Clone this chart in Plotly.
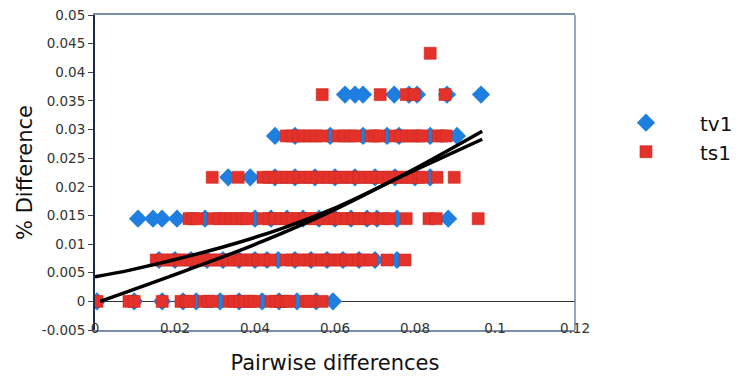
import plotly.graph_objects as go

# Discrete y levels of the rows
levels = [0.0, 0.00722, 0.01444, 0.02166, 0.02888, 0.0361, 0.04332]

# ts1 (red squares) x positions per row
ts1_row0 = [0.0005, 0.0085, 0.0098, 0.0168, 0.0215, 0.0228, 0.0235, 0.0273, 0.0283, 0.0293,
            0.0335, 0.0348, 0.0362, 0.0375, 0.0388, 0.0398, 0.0440, 0.0453, 0.0465, 0.0478,
            0.0485, 0.0528, 0.0535, 0.0568]
ts1_row1 = [0.0153, 0.0168, 0.0183, 0.0198, 0.0213, 0.0228, 0.0243, 0.0258, 0.0273, 0.0288,
            0.0303, 0.0318, 0.0333, 0.0348, 0.0363, 0.0378, 0.0393, 0.0408, 0.0423, 0.0438,
            0.0478, 0.0493, 0.0508, 0.0523, 0.0538, 0.0553, 0.0568, 0.0583, 0.0598, 0.0613,
            0.0628, 0.0643, 0.0658, 0.0673, 0.0690, 0.0730, 0.0775]
ts1_row2 = [0.0235, 0.0245, 0.0255, 0.0295, 0.0310, 0.0325, 0.0340, 0.0355, 0.0370, 0.0380,
            0.0420, 0.0435, 0.0450, 0.0465, 0.0480, 0.0495, 0.0510, 0.0525, 0.0540, 0.0555,
            0.0570, 0.0585, 0.0600, 0.0615, 0.0630, 0.0645, 0.0660, 0.0675, 0.0690, 0.0722,
            0.0735, 0.0778, 0.0835, 0.0853, 0.0958]
ts1_row3 = [0.0293, 0.0358, 0.0420, 0.0435, 0.0450, 0.0465, 0.0480, 0.0495, 0.0510, 0.0525,
            0.0540, 0.0555, 0.0570, 0.0585, 0.0600, 0.0615, 0.0630, 0.0645, 0.0660, 0.0675,
            0.0690, 0.0705, 0.0720, 0.0735, 0.0750, 0.0765, 0.0780, 0.0795, 0.0810, 0.0818,
            0.0855, 0.0898]
ts1_row4 = [0.0478, 0.0493, 0.0508, 0.0523, 0.0538, 0.0553, 0.0568, 0.0608, 0.0623, 0.0638,
            0.0650, 0.0690, 0.0700, 0.0710, 0.0750, 0.0765, 0.0780, 0.0795, 0.0810, 0.0818,
            0.0858, 0.0868, 0.0878]
ts1_row5 = [0.0568, 0.0713, 0.0778, 0.0798, 0.0875]
ts1_row6 = [0.0838]

# tv1 (blue diamonds) x positions per row
tv1_row0 = [0.0005, 0.0098, 0.0168, 0.0220, 0.0253, 0.0313, 0.0360, 0.0418, 0.0460, 0.0505,
            0.0553, 0.0595]
tv1_row1 = [0.0160, 0.0200, 0.0240, 0.0280, 0.0320, 0.0360, 0.0400, 0.0430, 0.0458, 0.0500,
            0.0540, 0.0580, 0.0620, 0.0660, 0.0700, 0.0755]
tv1_row2 = [0.01075, 0.0145, 0.01675, 0.0205, 0.0275, 0.0400, 0.0440, 0.0480, 0.0520, 0.0560,
            0.0600, 0.0640, 0.0680, 0.0705, 0.0755, 0.0883]
tv1_row3 = [0.0333, 0.0388, 0.0450, 0.0500, 0.0550, 0.0600, 0.0650, 0.0700, 0.0750, 0.0800,
            0.0838]
tv1_row4 = [0.0450, 0.0500, 0.0588, 0.0670, 0.0730, 0.0760, 0.0838, 0.0905]
tv1_row5 = [0.0625, 0.0650, 0.0670, 0.0748, 0.0785, 0.0805, 0.0880, 0.0965]
tv1_row6 = []

# Trend lines
trend_a_x = [0.0, 0.009, 0.032, 0.047, 0.059, 0.079, 0.0968]
trend_a_y = [0.0043, 0.0055, 0.0095, 0.0128, 0.0160, 0.0226, 0.0283]
trend_b_x = [0.0013, 0.022, 0.042, 0.059, 0.079, 0.0968]
trend_b_y = [0.0, 0.0052, 0.0105, 0.0157, 0.0228, 0.0297]

x_ticks = [0, 0.02, 0.04, 0.06, 0.08, 0.1, 0.12]
x_tick_labels = ["0", "0.02", "0.04", "0.06", "0.08", "0.1", "0.12"]
y_ticks = [-0.005, 0, 0.005, 0.01, 0.015, 0.02, 0.025, 0.03, 0.035, 0.04, 0.045, 0.05]
y_tick_labels = ["-0.005", "0", "0.005", "0.01", "0.015", "0.02", "0.025", "0.03",
                 "0.035", "0.04", "0.045", "0.05"]

ts1_rows = [ts1_row0, ts1_row1, ts1_row2, ts1_row3, ts1_row4, ts1_row5, ts1_row6]
tv1_rows = [tv1_row0, tv1_row1, tv1_row2, tv1_row3, tv1_row4, tv1_row5, tv1_row6]

def flatten(rows):
    xs, ys = [], []
    for lvl, row in zip(levels, rows):
        xs += row
        ys += [lvl] * len(row)
    return xs, ys

tv1_x, tv1_y = flatten(tv1_rows)
ts1_x, ts1_y = flatten(ts1_rows)

BLUE = "#1f7fe0"
RED = "#e4322a"
FONT = "DejaVu Sans"

fig = go.Figure()
fig.add_trace(go.Scatter(x=tv1_x, y=tv1_y, mode="markers", name="tv1",
                         marker=dict(symbol="diamond", size=14, color=BLUE,
                                     line=dict(width=0))))
fig.add_trace(go.Scatter(x=ts1_x, y=ts1_y, mode="markers", name="ts1",
                         marker=dict(symbol="square", size=12, color=RED,
                                     line=dict(width=0.6, color="#c82a24"))))
fig.add_trace(go.Scatter(x=trend_a_x, y=trend_a_y, mode="lines", showlegend=False,
                         line=dict(color="black", width=3.5, shape="spline")))
fig.add_trace(go.Scatter(x=trend_b_x, y=trend_b_y, mode="lines", showlegend=False,
                         line=dict(color="black", width=3.5, shape="spline")))

fig.update_layout(
    width=731, height=375,
    margin=dict(l=87, r=164, t=7, b=53, autoexpand=False),
    paper_bgcolor="white", plot_bgcolor="white",
    font=dict(family=FONT, color="#222"),
    showlegend=True,
    legend=dict(x=1.0354, y=0.72, xanchor="left", yanchor="top",
                font=dict(family=FONT, size=20, color="#111"),
                bgcolor="rgba(0,0,0,0)", itemwidth=98, tracegroupgap=0),
    xaxis=dict(range=[0, 0.12], tickvals=x_ticks, ticktext=x_tick_labels,
               showgrid=False, zeroline=False, showline=True, linecolor="#7e8ea6",
               linewidth=1.5, mirror=True, ticks="", ticklabelposition="outside",
               ticklabelstandoff=-15, automargin=False, ticklabeloverflow="allow",
               tickfont=dict(family=FONT, size=13.5, color="#333"),
               title=dict(text="Pairwise differences", standoff=20,
                          font=dict(family=FONT, size=21, color="#111"))),
    yaxis=dict(range=[-0.005, 0.05], tickvals=y_ticks, ticktext=y_tick_labels,
               showgrid=False, zeroline=True, zerolinecolor="#333", zerolinewidth=1,
               showline=True, linecolor="#1c2a4c", linewidth=2,
               ticks="outside", ticklen=5, tickcolor="#444", automargin=False,
               ticklabeloverflow="allow",
               tickfont=dict(family=FONT, size=13.5, color="#333"),
               title=dict(text="% Difference", standoff=3,
                          font=dict(family=FONT, size=21, color="#111"))),
)
fig.add_shape(type="line", xref="paper", yref="paper", x0=1, x1=1, y0=0, y1=1,
              line=dict(color="#6f8bb0", width=1.5))

fig.write_html("out.html")
